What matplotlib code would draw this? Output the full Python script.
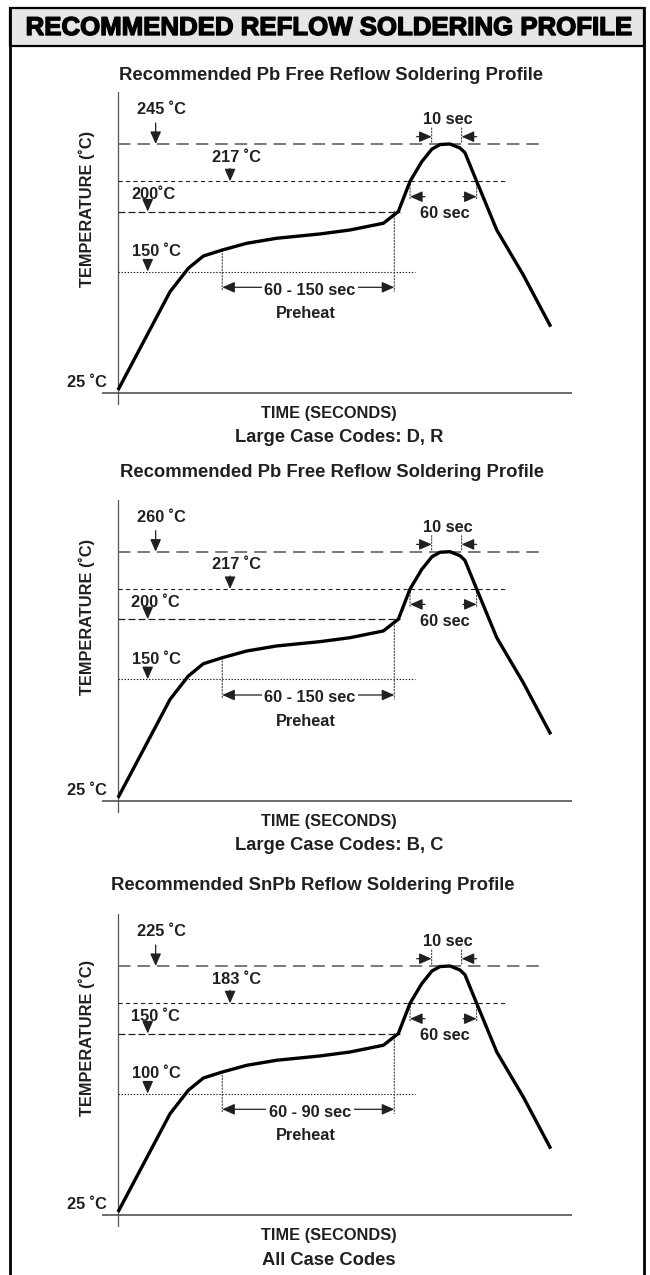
import numpy as np
import matplotlib
matplotlib.use('Agg')
import matplotlib.pyplot as plt
import matplotlib.patheffects as pe
from matplotlib.patches import Rectangle
from matplotlib.lines import Line2D
from matplotlib.transforms import offset_copy

plt.rcParams['font.family'] = ['Liberation Sans', 'DejaVu Sans']
plt.rcParams['font.weight'] = 'bold'
plt.rcParams['lines.scale_dashes'] = False

###############################################################################
# data (schematic profiles)
###############################################################################

header = 'RECOMMENDED REFLOW SOLDERING PROFILE'

panel_titles = ['Recommended Pb Free Reflow Soldering Profile',
                'Recommended Pb Free Reflow Soldering Profile',
                'Recommended SnPb Reflow Soldering Profile']
panel_captions = ['Large Case Codes: D, R',
                  'Large Case Codes: B, C',
                  'All Case Codes']

# levels: preheat min, preheat max, liquidus, peak
panel_levels = [[150, 200, 217, 245],
                [150, 200, 217, 260],
                [100, 150, 183, 225]]
level_labels = [['150 ˚C', '200˚C', '217 ˚C', '245 ˚C'],
                ['150 ˚C', '200 ˚C', '217 ˚C', '260 ˚C'],
                ['100 ˚C', '150 ˚C', '183 ˚C', '225 ˚C']]
preheat_labels = ['60 - 150 sec', '60 - 150 sec', '60 - 90 sec']

profile_time = [0, 34.7, 46.9, 56.9, 69.5, 85.8, 105.8, 134.7, 154.7, 176.9,
                186.9, 194.7, 202.5, 209.3, 214.7, 221.3, 228, 231.3, 239.1,
                252.5, 270.2, 288.5]
profile_temp = [
    [25, 128.7, 152.7, 162.9, 167.9, 173.5, 177.7, 181.3, 184.6, 190.2,
     200, 217, 231.7, 241.2, 244.6, 245, 242, 238.5, 217, 184.6, 146.3, 91.8],
    [25, 128.7, 152.7, 162.9, 167.9, 173.5, 177.7, 181.3, 184.6, 190.2,
     200, 217, 239.6, 254.2, 259.4, 260, 255.4, 250, 217, 184.6, 146.3, 91.8],
    [25, 87.2, 102.7, 112.9, 117.9, 123.5, 127.7, 131.3, 134.6, 140.2,
     150, 183, 205.1, 219.4, 224.4, 225, 220.5, 215.2, 183, 134.6, 97.8, 65.1],
]

preheat_start, preheat_end = 69.5, 184.2
liquidus_start, liquidus_end = 194.7, 239.1
peak_start, peak_end = 209.1, 229.1

###############################################################################
# layout (pixels of the 650x1275 picture)
###############################################################################

W, H = 650, 1275
INK = '#231f20'
panel_dy = [0, 407.7, 822]
title_x = [331, 332, 313]
title_base = [79.5, 477, 890]
ylabel_y = [209, 209, 216]
caption_base = [48.5, 48.5, 50]
level_end = [198, 188, 259.1, 284.7]
# heights (px above the bottom of the axes) of the anchors of the schematic scale
anchor_h = [0, 11.7, 15, 133.5, 193.5, 223.7, 261, 313]
FS = 11.8

fig = plt.figure(figsize=(6.5, 12.75), dpi=100)


def fx(x):
    return x / W


def fy(y):
    return 1 - y / H


def shift(ax, dx=0, dy=0):
    return offset_copy(ax.transData, fig=fig, x=dx, y=dy, units='dots')


def seg(ax, p0, p1, o0=(0, 0), o1=(0, 0), style='-', **kw):
    # line / arrow between two data points, each moved by a pixel offset
    props = dict(arrowstyle=style, shrinkA=0, shrinkB=0, mutation_scale=10,
                 color=kw.pop('color', INK), lw=kw.pop('lw', 0.9))
    props.update(kw)
    ax.annotate('', xy=p1, xycoords=shift(ax, *o1),
                xytext=p0, textcoords=shift(ax, *o0), arrowprops=props,
                annotation_clip=False)


HEAD = '-|>,head_length=0.75,head_width=0.33'
HEAD2 = '<|-|>,head_length=0.75,head_width=0.33'
DOT = dict(color='#444444', lw=0.8, linestyle=(0, (1, 1.3)))

# frame and header
fig.add_artist(Line2D([fx(9.5), fx(9.5)], [fy(8), 0], color='black', lw=2.0))
fig.add_artist(Line2D([fx(644), fx(644)], [fy(8), 0], color='black', lw=2.0))
fig.add_artist(Rectangle((fx(9.5), fy(45.7)), (644 - 9.5) / W, (45.7 - 8) / H,
                         transform=fig.transFigure, facecolor='#e6e6e6',
                         edgecolor='black', lw=1.6))
head = fig.text(fx(328.5), fy(35), header, ha='center', va='baseline',
                weight='bold', fontsize=18, color='black',
                path_effects=[pe.withStroke(linewidth=1.0, foreground='black')])
fig.canvas.draw()
bb = head.get_window_extent()
head.set_fontsize(18 * 605 / bb.width)

for i in range(3):
    oy = panel_dy[i]
    L4, L3, L2, Lpk = panel_levels[i]
    anchor_t = [0, 20, 25, L4, L3, L2, Lpk, Lpk + 50]

    ax = fig.add_axes([fx(101.7), fy(405 + oy), (572 - 101.7) / W, 313 / H])
    ax.set_yscale('function',
                  functions=(lambda v, a=anchor_t: np.interp(v, a, anchor_h),
                             lambda v, a=anchor_t: np.interp(v, anchor_h, a)))
    ax.set_xlim(-10.87, 302.67)
    ax.set_ylim(0, Lpk + 50)
    ax.axis('off')

    # axes lines
    ax.axvline(0, color='#555555', lw=0.9)
    ax.axhline(20, color='#444444', lw=1.1)

    # temperature levels
    ax.plot([0, level_end[0]], [L4, L4], color=INK, lw=0.8,
            linestyle=(0, (1, 1.2)))
    ax.plot([0, level_end[1]], [L3, L3], color=INK, lw=0.9,
            linestyle=(0, (5, 2.2)))
    ax.plot([0, level_end[2]], [L2, L2], color=INK, lw=0.8,
            linestyle=(0, (3, 2.4)))
    ax.plot([0, level_end[3]], [Lpk, Lpk], color='#555555', lw=1.1,
            linestyle=(0, (9, 5)))

    # profile
    ax.plot(profile_time, profile_temp[i], color='black', lw=2.4,
            solid_joinstyle='round', solid_capstyle='butt', zorder=5)

    # level labels with their arrows
    arrow_t = [19.8, 19.8, 74.7, 25.1]
    arrow_len = [10.7, 11, 13, 21]
    label_dx = [-16, -16.5, -18, -18.5]
    label_dy = [15.2, 12.2, 19.7, 29.7]
    for L, ta, ln, dx, dy, lab in zip(panel_levels[i], arrow_t, arrow_len,
                                      label_dx, label_dy, level_labels[i]):
        seg(ax, (ta, L), (ta, L), o0=(0, ln), style=HEAD)
        ax.annotate(lab, xy=(ta, L), xytext=(dx, dy),
                    textcoords='offset pixels', ha='left', va='baseline',
                    fontsize=FS, color=INK)

    # 25 C
    ax.annotate('25 ˚C', xy=(0, 25), xytext=(-31, 3),
                textcoords='offset pixels', ha='center', va='baseline',
                fontsize=FS, color=INK)

    # preheat
    T0 = np.interp(preheat_start, profile_time, profile_temp[i])
    seg(ax, (preheat_start, T0), (preheat_start, L4), o1=(0, -20), **DOT)
    seg(ax, (preheat_end, L3), (preheat_end, L4), o1=(0, -20), **DOT)
    seg(ax, (preheat_start, L4), (preheat_end, L4), o0=(0, -15.8),
        o1=(0, -15.8), style=HEAD2)
    ax.annotate(preheat_labels[i], xy=(128, L4), xytext=(0, -23.1),
                textcoords='offset pixels', ha='center', va='baseline',
                fontsize=FS, color=INK, zorder=6,
                bbox=dict(boxstyle='square,pad=0.15', fc='white', ec='none'))
    ax.annotate('Preheat', xy=(125.3, L4), xytext=(0, -46.4),
                textcoords='offset pixels', ha='center', va='baseline',
                fontsize=FS, color=INK)

    # time above liquidus
    for tm in (liquidus_start, liquidus_end):
        seg(ax, (tm, L2), (tm, L2), o1=(0, -19), **DOT)
    seg(ax, (204.7, L2), (liquidus_start, L2), o0=(0, -15.4), o1=(0, -15.4),
        style=HEAD)
    seg(ax, (230, L2), (liquidus_end, L2), o0=(0, -15.4), o1=(0, -15.4),
        style=HEAD)
    ax.annotate('60 sec', xy=(217.7, L2), xytext=(0, -36.8),
                textcoords='offset pixels', ha='center', va='baseline',
                fontsize=FS, color=INK)

    # time near peak
    for tm in (peak_start, peak_end):
        seg(ax, (tm, Lpk), (tm, Lpk), o0=(0, 16), o1=(0, 1), **DOT)
    seg(ax, (199.1, Lpk), (peak_start, Lpk), o0=(0, 7.3), o1=(0, 7.3),
        style=HEAD)
    seg(ax, (239.1, Lpk), (peak_end, Lpk), o0=(0, 7.3), o1=(0, 7.3),
        style=HEAD)
    ax.annotate('10 sec', xy=(220, Lpk), xytext=(0, 20.2),
                textcoords='offset pixels', ha='center', va='baseline',
                fontsize=FS, color=INK)

    # titles and captions
    fig.text(fx(title_x[i]), fy(title_base[i]), panel_titles[i],
             ha='center', va='baseline', fontsize=13.3, color=INK)
    fig.text(fx(86.5), fy(ylabel_y[i] + oy), 'TEMPERATURE (˚C)',
             rotation=90, ha='center', va='center', fontsize=FS, color=INK)
    fig.text(fx(329), fy(393.3 + oy + 25), 'TIME (SECONDS)',
             ha='center', va='baseline', fontsize=FS, color=INK)
    fig.text(fx(339 if i < 2 else 328.5), fy(393.3 + oy + caption_base[i]),
             panel_captions[i], ha='center', va='baseline', fontsize=13.2,
             color=INK)

fig.savefig('out.png', dpi=100)
